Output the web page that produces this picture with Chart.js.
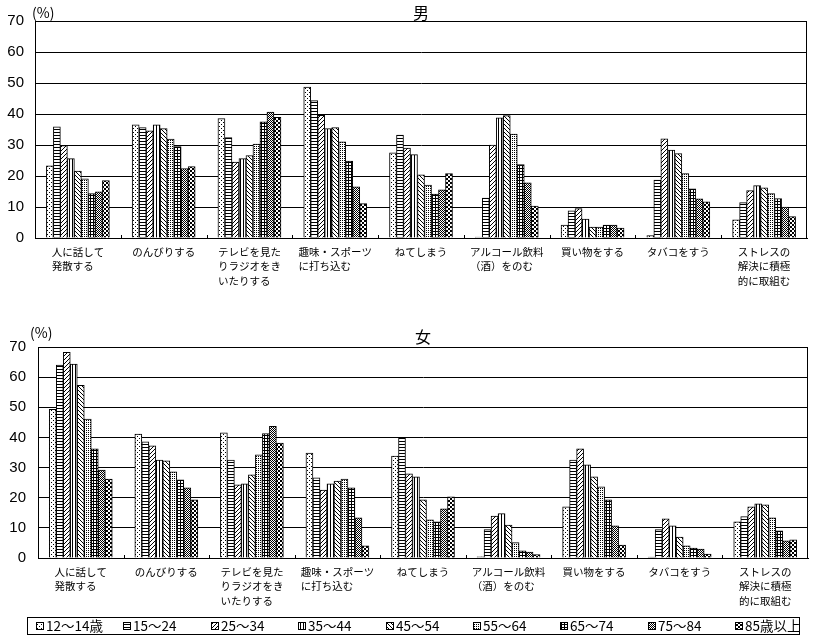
<!DOCTYPE html>
<html>
<head>
<meta charset="utf-8">
<script src="https://cdn.jsdelivr.net/npm/chart.js@4/dist/chart.umd.min.js"></script>
<style>
  body { margin: 0; background: #fff; }
  canvas { position: absolute; left: 0; }
  #male { top: 0; }
  #female { top: 300px; }
</style>
</head>
<body>
<canvas id="male" width="821" height="300"></canvas>
<canvas id="female" width="821" height="343"></canvas>
<script>
// カテゴリ（行の長さをそろえて左寄せに見せる）
const categories = [
  ['人に話して', '発散する　'],
  ['のんびりする'],
  ['テレビを見た', 'りラジオをき', 'いたりする　'],
  ['趣味・スポーツ', 'に打ち込む　　'],
  ['ねてしまう'],
  ['アルコール飲料', '（酒）をのむ　'],
  ['買い物をする'],
  ['タバコをすう'],
  ['ストレスの', '解決に積極', '的に取組む']
];
const ageGroups = ['12～14歳', '15～24', '25～34', '35～44', '45～54', '55～64', '65～74', '75～84', '85歳以上'];
const yTicks = [0, 10, 20, 30, 40, 50, 60, 70];

// 男
const male_12_14 = [23.3, 36.5, 38.5, 48.7, 27.5, 0.3, 4.2, 0.8, 5.9];
const male_15_24 = [35.9, 35.6, 32.4, 44.3, 33.2, 12.9, 8.8, 18.7, 11.4];
const male_25_34 = [29.8, 34.6, 24.5, 39.6, 29.0, 30.0, 9.5, 32.0, 15.3];
const male_35_44 = [25.6, 36.5, 25.6, 35.3, 26.9, 38.8, 6.1, 28.4, 16.9];
const male_45_54 = [21.6, 35.3, 26.6, 35.6, 20.4, 39.5, 3.5, 27.2, 16.2];
const male_55_64 = [19.1, 31.9, 30.3, 31.0, 17.1, 33.5, 3.5, 20.8, 14.3];
const male_65_74 = [14.3, 29.5, 37.5, 24.8, 14.2, 23.7, 4.2, 15.9, 12.7];
const male_75_84 = [14.9, 22.4, 40.6, 16.5, 15.5, 17.8, 4.2, 12.6, 10.0];
const male_85up  = [18.5, 23.0, 38.9, 11.1, 20.8, 10.3, 3.2, 11.7, 6.9];

// 女
const female_12_14 = [49.3, 41.1, 41.5, 34.8, 33.8, 0.4, 17.0, 0.3, 12.0];
const female_15_24 = [64.0, 38.5, 32.5, 26.6, 39.9, 9.4, 32.5, 9.4, 13.7];
const female_25_34 = [68.2, 37.2, 24.3, 22.5, 27.9, 13.9, 36.2, 13.0, 17.0];
const female_35_44 = [64.3, 32.5, 24.6, 24.6, 26.9, 14.7, 30.9, 10.7, 18.0];
const female_45_54 = [57.3, 32.2, 27.6, 25.5, 19.3, 10.9, 26.9, 6.9, 17.6];
const female_55_64 = [46.1, 28.6, 34.2, 26.2, 12.7, 5.1, 23.6, 4.0, 13.3];
const female_65_74 = [36.2, 25.9, 41.3, 23.3, 12.0, 2.4, 19.3, 3.3, 9.0];
const female_75_84 = [29.2, 23.3, 43.7, 13.3, 16.3, 2.0, 10.7, 3.0, 5.7];
const female_85up  = [26.2, 19.3, 38.1, 4.0, 20.3, 1.1, 4.3, 1.3, 6.0];

const maleSeries = [male_12_14, male_15_24, male_25_34, male_35_44, male_45_54, male_55_64, male_65_74, male_75_84, male_85up];
const femaleSeries = [female_12_14, female_15_24, female_25_34, female_35_44, female_45_54, female_55_64, female_65_74, female_75_84, female_85up];

const JP = '"Noto Sans CJK JP", sans-serif';

// 白地に黒の小さなタイルで模様を作る
function makePattern(w, h, rects) {
  const c = document.createElement('canvas');
  c.width = w; c.height = h;
  const g = c.getContext('2d');
  g.fillStyle = '#fff';
  g.fillRect(0, 0, w, h);
  g.fillStyle = '#000';
  rects.forEach(r => g.fillRect(r[0], r[1], r[2] || 1, r[3] || 1));
  return g.createPattern(c, 'repeat');
}

const patterns = [
  makePattern(4, 4, [[1, 0], [3, 2]]),                    // 点
  makePattern(3, 3, [[0, 0, 3, 1]]),                      // 横線
  makePattern(4, 4, [[3, 0], [2, 1], [1, 2], [0, 3]]),    // 斜線 /
  makePattern(3, 3, [[0, 0, 1, 3]]),                      // 縦線
  makePattern(4, 4, [[0, 0], [1, 1], [2, 2], [3, 3]]),    // 斜線 \
  makePattern(2, 2, [[0, 0]]),                            // 細かい点
  makePattern(3, 3, [[0, 0, 3, 1], [0, 0, 1, 3]]),        // 格子
  makePattern(2, 2, [[0, 0], [1, 1]]),                    // 網
  makePattern(4, 4, [[0, 0, 2, 2], [2, 2, 2, 2]])         // 市松
];

// 枠・目盛・タイトル・(%)
function panelPlugin(title, titleY, unitX, unitY) {
  return {
    id: 'panel',
    afterDatasetsDraw(chart) {
      const {ctx, chartArea: a} = chart;
      const x = chart.scales.x;
      ctx.save();
      ctx.strokeStyle = '#000';
      ctx.lineWidth = 1;
      ctx.strokeRect(Math.round(a.left) + 0.5, Math.round(a.top) + 0.5,
        Math.round(a.right - a.left) - 1, Math.round(a.bottom - a.top));
      // カテゴリ境界の短い目盛（内向き）
      for (let i = 1; i < categories.length; i++) {
        const px = Math.round((x.getPixelForTick(i - 1) + x.getPixelForTick(i)) / 2) + 0.5;
        ctx.beginPath();
        ctx.moveTo(px, a.bottom - 3);
        ctx.lineTo(px, a.bottom);
        ctx.stroke();
      }
      ctx.fillStyle = '#000';
      ctx.textBaseline = 'middle';
      ctx.textAlign = 'center';
      ctx.font = '16px ' + JP;
      ctx.fillText(title, (a.left + a.right) / 2, titleY);
      ctx.textAlign = 'left';
      ctx.font = '14px ' + JP;
      ctx.fillText('(%)', unitX, unitY);
      ctx.restore();
    }
  };
}

// 凡例（下の枠の中）
const legendBox = {
  id: 'legendBox',
  afterDraw(chart) {
    const ctx = chart.ctx;
    ctx.save();
    ctx.strokeStyle = '#000';
    ctx.lineWidth = 1;
    ctx.strokeRect(27.5, 317.5, 772, 17);
    ctx.font = '13.5px ' + JP;
    ctx.textBaseline = 'middle';
    chart.data.datasets.forEach((ds, i) => {
      const bx = Math.round(36 + i * 87.4);
      ctx.fillStyle = ds.backgroundColor;
      ctx.fillRect(bx, 322, 8, 8);
      ctx.strokeRect(bx + 0.5, 322.5, 7, 7);
      ctx.fillStyle = '#000';
      ctx.fillText(ds.label, bx + 10, 326);
    });
    ctx.restore();
  }
};

function buildChart(id, series, o) {
  return new Chart(document.getElementById(id), {
    type: 'bar',
    data: {
      labels: categories,
      datasets: series.map((vals, i) => ({
        label: ageGroups[i],
        data: vals,
        backgroundColor: patterns[i],
        borderColor: '#000',
        borderWidth: 1,
        barThickness: 7
      }))
    },
    options: {
      responsive: false,
      animation: false,
      devicePixelRatio: 1,
      layout: { padding: { top: o.top, right: o.right, left: 0, bottom: o.bottom } },
      plugins: {
        legend: { display: false },
        tooltip: { enabled: false }
      },
      scales: {
        x: {
          grid: { display: false, drawTicks: false },
          border: { display: true, color: '#000' },
          ticks: {
            autoSkip: false,
            maxRotation: 0,
            minRotation: 0,
            padding: 6.5,
            color: '#000',
            font: { family: JP, size: 10.5, lineHeight: 1.38 }
          },
          afterFit(scale) { scale.height = o.xHeight; }
        },
        y: {
          min: 0,
          max: 70,
          afterBuildTicks(scale) { scale.ticks = yTicks.map(v => ({ value: v })); },
          grid: { color: '#000', lineWidth: 1, drawTicks: false },
          border: { display: true, color: '#000' },
          ticks: {
            padding: o.yPad,
            color: '#000',
            font: { family: '"Liberation Sans", Arial, sans-serif', size: 15 }
          },
          afterFit(scale) { scale.width = o.left; }
        }
      }
    },
    plugins: o.plugins
  });
}

buildChart('male', maleSeries, {
  top: 21, right: 14, bottom: 0, left: 35, xHeight: 62, yPad: 11,
  plugins: [panelPlugin('男', 12.5, 32, 12.5)]
});

buildChart('female', femaleSeries, {
  top: 47, right: 13, bottom: 33, left: 38, xHeight: 52, yPad: 12,
  plugins: [panelPlugin('女', 36.5, 30, 33), legendBox]
});
</script>
</body>
</html>
